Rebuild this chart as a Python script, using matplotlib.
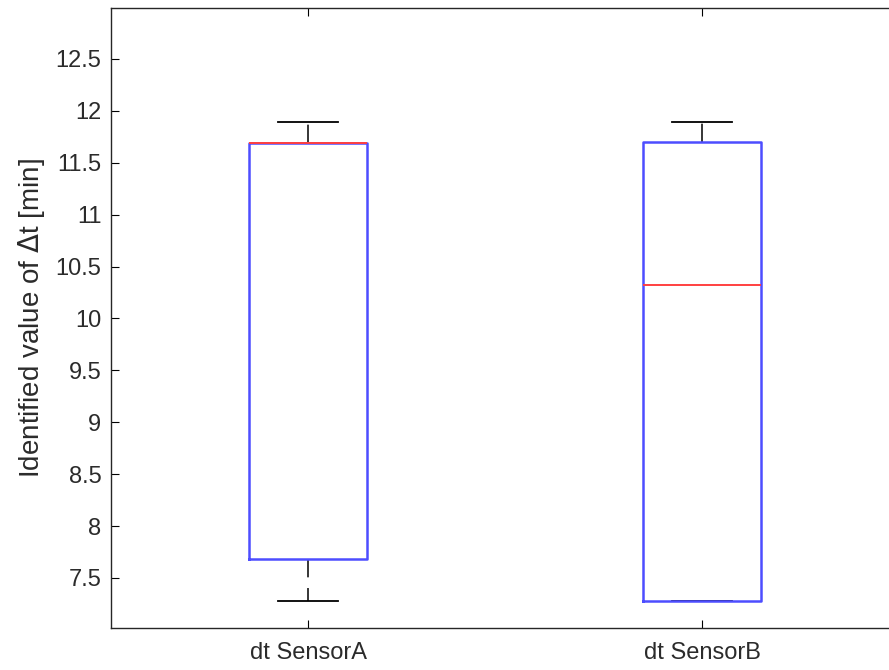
import matplotlib
matplotlib.use("Agg")
import matplotlib.pyplot as plt

plt.rcParams['font.family'] = ['Liberation Sans', 'DejaVu Sans']

categories = ["dt SensorA", "dt SensorB"]
whislo = [7.28, 7.28]
q1 = [7.68, 7.28]
med = [11.69, 10.32]
q3 = [11.69, 11.70]
whishi = [11.89, 11.89]
yticks = [7.5, 8, 8.5, 9, 9.5, 10, 10.5, 11, 11.5, 12, 12.5]

fig = plt.figure(figsize=(8.89, 6.70), dpi=100)
ax = fig.add_axes([111/889, 1-628/670, (899-111)/889, (628-8)/670])

stats = []
for i, c in enumerate(categories):
    stats.append(dict(label=c, whislo=whislo[i], q1=q1[i], med=med[i],
                      q3=q3[i], whishi=whishi[i], fliers=[]))

ax.bxp(stats, positions=[1, 2], widths=0.30, showfliers=False,
       boxprops=dict(color=(0.3, 0.3, 1.0), linewidth=1.8, zorder=3),
       medianprops=dict(color=(1.0, 0.25, 0.25), linewidth=1.4, zorder=4),
       whiskerprops=dict(color='black', linewidth=1.1, linestyle=(0, (12, 7)), zorder=2),
       capprops=dict(color='black', linewidth=1.3, zorder=2),
       capwidths=0.15)

ax.set_xlim(0.5, 2.5)
ax.set_ylim(7.018, 12.99)
ax.set_yticks(yticks)
ax.set_yticklabels([f"{t:g}" for t in yticks])
ax.set_xticks([1, 2])
ax.set_xticklabels(categories)
tc = (0.17, 0.17, 0.17)
ax.tick_params(direction='in', length=6, width=0.8, labelsize=17, colors='black',
               top=True, right=True)
ax.tick_params(axis='y', labelcolor=tc, pad=7)
ax.tick_params(axis='x', labelcolor=tc, pad=10)
for s in ax.spines.values():
    s.set_linewidth(1.0)
    s.set_color((0.15, 0.15, 0.15))
ax.set_ylabel("Identified value of $\\Delta$t [min]", fontsize=20,
              color=tc, labelpad=6)

fig.savefig("out.png", dpi=100)
